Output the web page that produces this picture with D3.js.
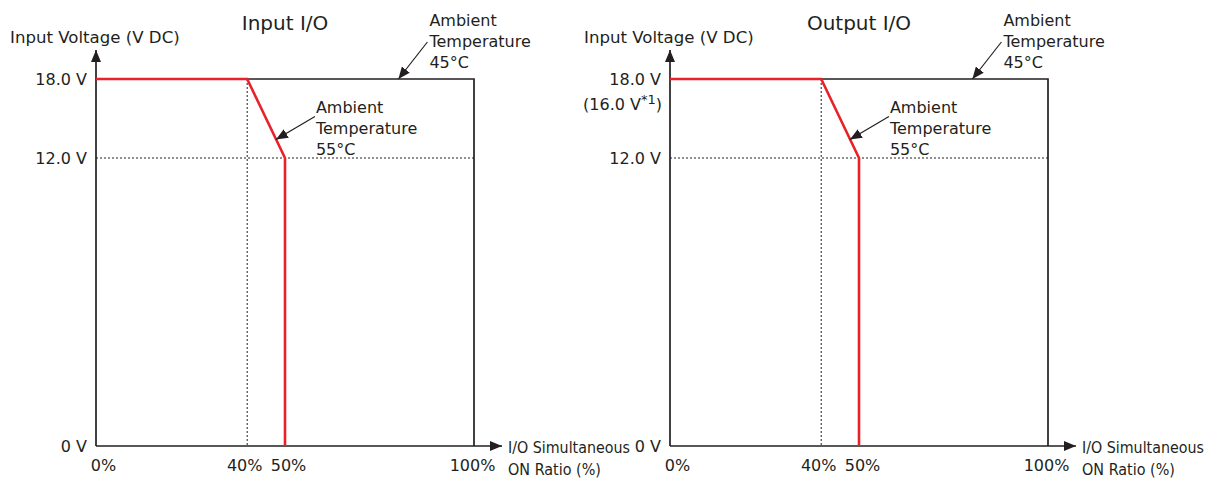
<!DOCTYPE html>
<html>
<head>
<meta charset="utf-8">
<script src="https://cdn.jsdelivr.net/npm/d3@7"></script>
<style>
  html, body { margin: 0; padding: 0; background: #fff; }
  svg { display: block; font-family: "DejaVu Sans", Verdana, sans-serif; }
</style>
</head>
<body>
<svg id="chart" width="1217" height="484"></svg>
<script>
// Derating curves: allowed simultaneous ON ratio vs. input voltage
const panelTitles = ["Input I/O", "Output I/O"];
const xTickValues = [0, 40, 50, 100];
const xTickLabels = ["0%", "40%", "50%", "100%"];
const yTickValues = [0, 12, 18];
const yTickLabels = ["0 V", "12.0 V", "18.0 V"];
const yTickNotes = ["", "", "(16.0 V*1)"];   // second line under 18.0 V, output panel only

// 55 °C limit (red)
const ratio55 = [0, 40, 50, 50];
const volt55 = [18, 18, 12, 0];
// 45 °C limit (black frame)
const ratio45 = [0, 100, 100];
const volt45 = [18, 18, 0];

const yAxisTitle = "Input Voltage (V DC)";
const xAxisTitle = ["I/O Simultaneous", "ON Ratio (%)"];
const note45 = ["Ambient", "Temperature", "45°C"];
const note55 = ["Ambient", "Temperature", "55°C"];

const ink = "#231f20";
const red = "#e8212b";
const FONT = "DejaVu Sans, Verdana, sans-serif";

const svg = d3.select("#chart");

const defs = svg.append("defs");
defs.append("marker")
  .attr("id", "head")
  .attr("viewBox", "0 0 12 10")
  .attr("refX", 12).attr("refY", 5)
  .attr("markerWidth", 12).attr("markerHeight", 10)
  .attr("markerUnits", "userSpaceOnUse")
  .attr("orient", "auto")
  .append("path").attr("d", "M0,0 L12,5 L0,10 Z").attr("fill", ink);

const panelLeft = [96, 670];
const plotW = 378;

// schematic voltage axis: 12 V and 18 V are spread apart for readability
const y = d3.scaleLinear().domain([0, 12, 18]).range([446, 158, 79]);

panelTitles.forEach((title, i) => {
  const x = d3.scaleLinear().domain([0, 100]).range([panelLeft[i], panelLeft[i] + plotW]);
  const g = svg.append("g");
  const line = d3.line().x(d => x(d[0])).y(d => y(d[1]));

  // dotted guides
  g.append("path")
    .attr("d", line([[40, 18], [40, 0]]))
    .attr("stroke", ink).attr("stroke-width", 1).attr("stroke-dasharray", "2,2").attr("fill", "none");
  g.append("path")
    .attr("d", line([[0, 12], [100, 12]]))
    .attr("stroke", ink).attr("stroke-width", 1).attr("stroke-dasharray", "2,2").attr("fill", "none");

  // 45 °C frame
  g.append("path")
    .attr("d", line(ratio45.map((r, k) => [r, volt45[k]])))
    .attr("stroke", ink).attr("stroke-width", 1.7).attr("fill", "none");

  // axes
  const xAxis = d3.axisBottom(x).tickValues(xTickValues).tickSize(0).tickPadding(13.5)
    .tickFormat((d, k) => xTickLabels[k]);
  const xg = g.append("g").attr("transform", `translate(0,${y(0)})`).call(xAxis)
    .attr("font-size", 16).attr("font-family", FONT);
  xg.select(".domain").remove();
  xg.selectAll("text").attr("fill", ink)
    .attr("dx", d => d === 0 ? 7 : (d === 40 ? -3 : (d === 50 ? 3 : -2)));

  const yAxis = d3.axisLeft(y).tickValues(yTickValues).tickSize(0).tickPadding(9)
    .tickFormat((d, k) => yTickLabels[k]);
  const yg = g.append("g").attr("transform", `translate(${x(0)},0)`).call(yAxis)
    .attr("font-size", 16).attr("font-family", FONT);
  yg.select(".domain").remove();
  yg.selectAll("text").attr("fill", ink);
  if (i === 1) {
    yg.selectAll(".tick").filter(d => d === 18).each(function (d) {
      const note = yTickNotes[yTickValues.indexOf(d)];
      const m = note.match(/^(.*)\*(\d)\)$/);
      const t = d3.select(this).append("text")
        .attr("x", -8).attr("dy", "1.92em")
        .attr("text-anchor", "end").attr("fill", ink)
        .style("font-size", "16px").style("font-family", FONT);
      t.append("tspan").style("font-size", "16px").text(m[1]);
      t.append("tspan").attr("dy", -6).style("font-size", "13px").text("*" + m[2]);
      t.append("tspan").attr("dy", 6).style("font-size", "16px").text(")");
    });
  }

  g.append("line")
    .attr("x1", x(0)).attr("y1", y(0)).attr("x2", x(0)).attr("y2", 50)
    .attr("stroke", ink).attr("stroke-width", 1.7).attr("marker-end", "url(#head)");
  g.append("line")
    .attr("x1", x(0)).attr("y1", y(0)).attr("x2", x(100) + 28).attr("y2", y(0))
    .attr("stroke", ink).attr("stroke-width", 1.7).attr("marker-end", "url(#head)");

  // 55 °C curve
  g.append("path")
    .attr("d", line(ratio55.map((r, k) => [r, volt55[k]])))
    .attr("stroke", red).attr("stroke-width", 2.6).attr("fill", "none")
    .attr("stroke-linejoin", "miter");

  // titles
  g.append("text")
    .attr("x", x(50)).attr("y", 30).attr("text-anchor", "middle")
    .attr("font-size", 20).attr("fill", ink).text(title);
  g.append("text")
    .attr("x", x(0) - 86).attr("y", 42.5)
    .attr("font-size", 16.6).attr("fill", ink).text(yAxisTitle);

  // x-axis title, set in a narrow face by squeezing horizontally
  const targetW = [122, 93];
  xAxisTitle.forEach((s, k) => {
    const t = g.append("text").attr("font-size", 16).attr("fill", ink).text(s);
    const w = t.node().getComputedTextLength();
    const sx = targetW[k] / w;
    t.attr("transform", `translate(${x(100) + 34},${453 + k * 22}) scale(${sx},1)`);
  });

  // callouts
  const callout = (tipR, tipV, lineDx, lineDy, textDx, firstBaseline, lines) => {
    const tx = x(tipR), ty = y(tipV);
    g.append("line")
      .attr("x1", tx + lineDx).attr("y1", ty + lineDy).attr("x2", tx).attr("y2", ty)
      .attr("stroke", ink).attr("stroke-width", 1.2).attr("marker-end", "url(#head)");
    const t = g.append("text").attr("font-size", 16).attr("fill", ink);
    lines.forEach((s, k) => {
      t.append("tspan").attr("x", tx + textDx).attr("y", ty + firstBaseline + k * 21.2).text(s);
    });
  };
  callout(80, 18, 29, -37, 31, -53, note45);
  callout(47.6, 13.4, 39, -23, 40, -26.5, note55);
});
</script>
</body>
</html>
